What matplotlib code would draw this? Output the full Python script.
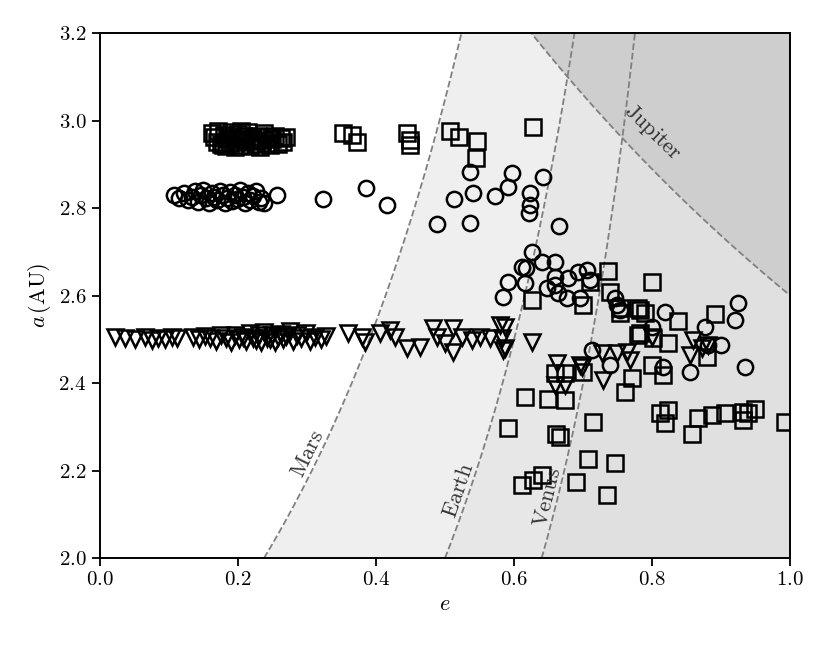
import numpy as np
import matplotlib
matplotlib.use("Agg")
import matplotlib.pyplot as plt

plt.rcParams['font.family'] = 'serif'
plt.rcParams['font.serif'] = ['cmr10']
plt.rcParams['mathtext.fontset'] = 'cm'
plt.rcParams['axes.formatter.use_mathtext'] = True
plt.rcParams['axes.unicode_minus'] = False

# planet orbit distances (AU) used for the crossing boundaries
planet_names = ['Mars', 'Earth', 'Venus']
planet_q = [1.524, 1.0, 0.72]
jupiter_a = 5.2

# squares: outer group
sq_e = [0.162, 0.165, 0.170, 0.172, 0.178, 0.180, 0.185, 0.188, 0.190, 0.193,
        0.196, 0.198, 0.200, 0.203, 0.206, 0.209, 0.211, 0.214, 0.217, 0.220,
        0.223, 0.226, 0.229, 0.232, 0.235, 0.238, 0.241, 0.244, 0.247, 0.250,
        0.254, 0.258, 0.262, 0.266, 0.270, 0.176, 0.183, 0.205,
        0.352, 0.365, 0.372, 0.445, 0.449, 0.449, 0.507, 0.520, 0.546, 0.545,
        0.628, 0.626, 0.700, 0.710, 0.736, 0.739, 0.754, 0.754, 0.780, 0.780,
        0.659, 0.674, 0.700, 0.616, 0.649, 0.674, 0.591, 0.661, 0.667, 0.714,
        0.612, 0.628, 0.640, 0.690, 0.707, 0.746, 0.735, 0.761, 0.771,
        0.800, 0.783, 0.790, 0.838, 0.891, 0.783, 0.801, 0.823, 0.880, 0.800,
        0.816, 0.812, 0.823, 0.819, 0.858, 0.867, 0.887, 0.906, 0.932, 0.932,
        0.939, 0.949, 0.993]
sq_a = [2.972, 2.963, 2.952, 2.976, 2.945, 2.968, 2.958, 2.948, 2.975, 2.962,
        2.940, 2.955, 2.970, 2.944, 2.958, 2.966, 2.950, 2.973, 2.942, 2.960,
        2.953, 2.947, 2.965, 2.940, 2.956, 2.971, 2.949, 2.962, 2.944, 2.958,
        2.965, 2.946, 2.960, 2.952, 2.963, 2.946, 2.942, 2.977,
        2.971, 2.967, 2.951, 2.971, 2.955, 2.944, 2.976, 2.962, 2.953, 2.914,
        2.985, 2.590, 2.578, 2.631, 2.656, 2.608, 2.571, 2.560, 2.571, 2.510,
        2.423, 2.423, 2.425, 2.368, 2.363, 2.361, 2.297, 2.283, 2.277, 2.311,
        2.167, 2.178, 2.190, 2.174, 2.226, 2.217, 2.144, 2.379, 2.411,
        2.631, 2.567, 2.560, 2.542, 2.558, 2.514, 2.503, 2.491, 2.459, 2.441,
        2.418, 2.331, 2.338, 2.309, 2.283, 2.320, 2.327, 2.331, 2.334, 2.315,
        2.331, 2.341, 2.311]

# circles: middle group
ci_e = [0.107, 0.115, 0.122, 0.128, 0.133, 0.138, 0.142, 0.147, 0.150, 0.154,
        0.158, 0.162, 0.166, 0.170, 0.174, 0.178, 0.181, 0.185, 0.188, 0.192,
        0.196, 0.199, 0.203, 0.207, 0.210, 0.214, 0.218, 0.222, 0.226, 0.230,
        0.234, 0.238, 0.257,
        0.323, 0.386, 0.416, 0.488, 0.513, 0.536, 0.541, 0.536, 0.572, 0.591,
        0.597, 0.623, 0.623, 0.622, 0.642, 0.665,
        0.626, 0.641, 0.659, 0.612, 0.617, 0.591, 0.584, 0.616, 0.648, 0.659,
        0.660, 0.664, 0.678, 0.677, 0.696, 0.693, 0.706, 0.710, 0.746, 0.749,
        0.754, 0.713, 0.739,
        0.819, 0.800, 0.877, 0.925, 0.920, 0.899, 0.881, 0.855, 0.935, 0.816]
ci_a = [2.830, 2.822, 2.834, 2.818, 2.826, 2.838, 2.815, 2.830, 2.842, 2.822,
        2.812, 2.834, 2.826, 2.818, 2.840, 2.829, 2.812, 2.823, 2.836, 2.816,
        2.830, 2.820, 2.842, 2.825, 2.812, 2.834, 2.818, 2.828, 2.838, 2.815,
        2.822, 2.812, 2.830,
        2.821, 2.846, 2.807, 2.763, 2.821, 2.766, 2.834, 2.882, 2.827, 2.848,
        2.880, 2.834, 2.807, 2.789, 2.871, 2.759,
        2.700, 2.677, 2.677, 2.665, 2.662, 2.630, 2.597, 2.629, 2.617, 2.642,
        2.624, 2.606, 2.640, 2.594, 2.594, 2.654, 2.658, 2.635, 2.594, 2.578,
        2.567, 2.475, 2.441,
        2.562, 2.528, 2.528, 2.583, 2.544, 2.487, 2.487, 2.425, 2.437, 2.437]

# triangles: inner group
tr_e = [0.022, 0.036, 0.051, 0.065, 0.075, 0.084, 0.094, 0.104, 0.112,
        0.135, 0.144, 0.152, 0.160, 0.168, 0.175, 0.183, 0.190, 0.196, 0.202,
        0.207, 0.212, 0.217, 0.222, 0.226, 0.230, 0.234, 0.238, 0.242, 0.246,
        0.250, 0.254, 0.258, 0.262, 0.266, 0.270, 0.275, 0.280, 0.286, 0.292,
        0.298, 0.305, 0.312, 0.320, 0.328,
        0.359, 0.380, 0.384, 0.406, 0.420, 0.428, 0.445, 0.464, 0.483, 0.489,
        0.500, 0.512, 0.512, 0.525, 0.539, 0.551, 0.565, 0.580, 0.583, 0.587,
        0.626, 0.587, 0.584,
        0.662, 0.696, 0.728, 0.749, 0.764, 0.659, 0.674, 0.699, 0.729, 0.768,
        0.800, 0.859, 0.855, 0.872, 0.881]
tr_a = [2.505, 2.503, 2.500, 2.505, 2.498, 2.503, 2.500, 2.506, 2.502,
        2.505, 2.500, 2.507, 2.502, 2.497, 2.509, 2.503, 2.495, 2.511, 2.500,
        2.506, 2.497, 2.514, 2.503, 2.499, 2.509, 2.495, 2.516, 2.503, 2.500,
        2.509, 2.494, 2.505, 2.512, 2.500, 2.507, 2.518, 2.497, 2.510, 2.502,
        2.515, 2.496, 2.506, 2.500, 2.508,
        2.514, 2.505, 2.494, 2.514, 2.521, 2.505, 2.480, 2.482, 2.526, 2.505,
        2.492, 2.526, 2.471, 2.505, 2.498, 2.505, 2.503, 2.533, 2.503, 2.480,
        2.494, 2.528, 2.475,
        2.446, 2.441, 2.469, 2.469, 2.471, 2.395, 2.395, 2.437, 2.407, 2.453,
        2.505, 2.498, 2.464, 2.480, 2.487]

fig = plt.figure(figsize=(8.31, 6.5), dpi=100)
ax = fig.add_axes([0.120, 0.1415, 0.831, 0.8075])

a_grid = np.linspace(2.0, 3.2, 300)
fills = ['#efefef', '#e7e7e7', '#e0e0e0']
for q, c in zip(planet_q, fills):
    e_line = 1 - q / a_grid
    ax.fill_betweenx(a_grid, e_line, 1.0, color=c, lw=0, zorder=0)
    ax.plot(e_line, a_grid, color='#808080', ls='--', lw=1.3, zorder=1)

e_grid = np.linspace(0.5, 1.0, 300)
a_jup = jupiter_a / (1 + e_grid)
ax.fill_between(e_grid, a_jup, 3.2, color='#cecece', lw=0, zorder=0)
ax.plot(e_grid, a_jup, color='#808080', ls='--', lw=1.3, zorder=1)

mk = dict(ls='none', mfc='none', mec='k', ms=11, mew=1.8, zorder=3)
ax.plot(tr_e, tr_a, marker='v', **mk)
ax.plot(ci_e, ci_a, marker='o', **mk)
ax.plot(sq_e, sq_a, marker='s', **mk)

lab = dict(fontsize=16, color='#333333', ha='center', va='center')
ax.text(0.301, 2.238, r'$\mathrm{Mars}$', rotation=64, **lab)
ax.text(0.520, 2.155, r'$\mathrm{Earth}$', rotation=71, **lab)
ax.text(0.649, 2.139, r'$\mathrm{Venus}$', rotation=76, **lab)
ax.text(0.800, 2.974, r'$\mathrm{Jupiter}$', rotation=-44, **lab)

ax.set_xlim(0, 1)
ax.set_ylim(2.0, 3.2)
ax.set_xticks(np.arange(0, 1.01, 0.2))
ax.set_yticks(np.arange(2.0, 3.21, 0.2))
ax.xaxis.set_major_formatter(plt.FuncFormatter(lambda v, p: r'$%.1f$' % v))
ax.yaxis.set_major_formatter(plt.FuncFormatter(lambda v, p: r'$%.1f$' % v))
ax.tick_params(labelsize=15, width=1.3, length=6)
for s in ax.spines.values():
    s.set_linewidth(1.4)
ax.set_xlabel(r'$e$', fontsize=16)
ax.set_ylabel(r'$a\,(\mathrm{AU})$', fontsize=16)

fig.savefig('out.png', dpi=100)
